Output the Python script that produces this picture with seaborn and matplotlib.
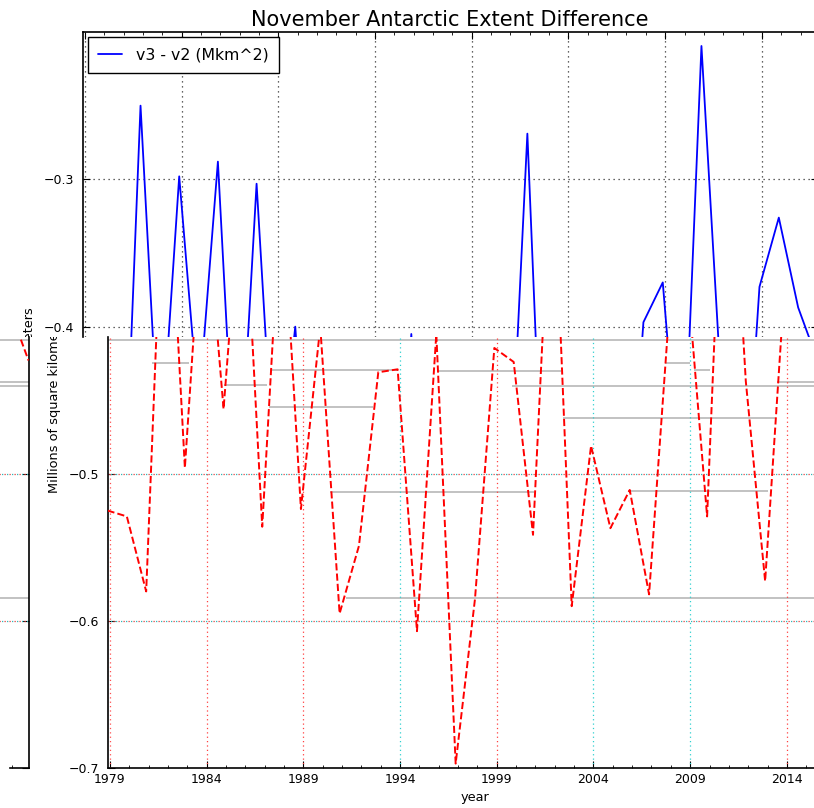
import numpy as np
import pandas as pd
import matplotlib
matplotlib.use("Agg")
import matplotlib.pyplot as plt
from matplotlib.ticker import MultipleLocator
from matplotlib.transforms import Bbox, TransformedBbox
import seaborn as sns

# ---------------- data ----------------
years = list(range(1978, 2017))
diff_v3_v2 = [-0.525, -0.529, -0.580, -0.250, -0.496, -0.298, -0.456, -0.288, -0.536, -0.303,
              -0.524, -0.400, -0.595, -0.549, -0.431, -0.429, -0.607, -0.405, -0.697, -0.585,
              -0.4145, -0.424, -0.5415, -0.269, -0.590, -0.481, -0.537, -0.511, -0.582, -0.397,
              -0.370, -0.529, -0.2095, -0.437, -0.573, -0.373, -0.326, -0.387, -0.423]
x_ticks = [1979, 1984, 1989, 1994, 1999, 2004, 2009, 2014]
x_tick_labels = [str(v) for v in x_ticks]
y_ticks_top = [-0.3, -0.4]
y_ticks_bottom = [-0.5, -0.6, -0.7]
legend_label = "v3 - v2 (Mkm^2)"
title = "November Antarctic Extent Difference"
ylabel = "Millions of square kilometers"
xlabel = "year"

# faint grey horizontal streaks seen in the lower half of the picture (value, from-year, to-year)
streak_y = [-0.4088, -0.4293, -0.4299, -0.4401, -0.4619, -0.5126, -0.5120, -0.5842,
            -0.4549, -0.4245, -0.4395, -0.4245, -0.4293, -0.4374]
streak_x0 = [1978.9, 1987.3, 1996.0, 1999.8, 2002.4, 1990.4, 2005.8, 1991.2,
             1987.2, 1981.2, 1984.9, 2007.7, 2009.2, 2013.5]
streak_x1 = [2016.9, 1993.9, 2002.3, 2016.9, 2013.4, 2000.9, 2013.0, 2016.9,
             1992.6, 1983.1, 1987.1, 2009.0, 2010.0, 2016.9]

# mid-November as fractional year
x_vals = np.array(years) + 10.5 / 12
df = pd.DataFrame({"x": x_vals, "diff": diff_v3_v2})

# ---------------- style ----------------
sns.set_style("white")
plt.rcParams["font.family"] = ["DejaVu Sans"]
plt.rcParams["axes.unicode_minus"] = True
for k in ["text.color", "axes.labelcolor", "xtick.color", "ytick.color"]:
    plt.rcParams[k] = "black"

W, H = 814, 808
fig = plt.figure(figsize=(W / 100, H / 100), dpi=100)


def px_axes(left, top, right, bottom):
    return fig.add_axes([left / W, 1 - bottom / H, (right - left) / W, (bottom - top) / H])


SPLIT = 336.5
Y_SPLIT = -0.4067
axA = px_axes(82.5, 32, 817.5, SPLIT)
axB = px_axes(107.5, SPLIT, 842.5, 768)
axC = px_axes(107.5 - 814, SPLIT, 842.5 - 814, 768)

xlim = (x_vals[0], x_vals[-1])

# ---------- upper half: blue solid ----------
sns.lineplot(data=df, x="x", y="diff", ax=axA, color="#0000ff", lw=1.3,
             label=legend_label, zorder=3, sort=False)
axA.set_xlim(*xlim)
axA.set_ylim(Y_SPLIT, -0.2)
axA.set_xticks(x_ticks)
axA.xaxis.set_minor_locator(MultipleLocator(1))
axA.set_yticks(y_ticks_top)
axA.tick_params(axis="x", which="both", direction="in", top=True, bottom=False,
                labeltop=False, labelbottom=False)
axA.tick_params(axis="x", which="major", length=5, width=0.8)
axA.tick_params(axis="x", which="minor", length=2.5, width=0.6)
axA.tick_params(axis="y", which="major", direction="in", left=True, right=True,
                length=5, width=0.8, pad=6, labelsize=9)
axA.grid(True, which="major", axis="both", linestyle=(0, (1, 3)), color="#333333", lw=0.9)
axA.set_axisbelow(True)
axA.set_xlabel("")
axA.set_ylabel("")
for s in ["left", "top", "right"]:
    axA.spines[s].set_color("black")
    axA.spines[s].set_linewidth(1.2)
axA.spines["bottom"].set_visible(False)
axA.set_title(title, fontsize=15, pad=4, color="black")
leg = axA.legend(loc="upper left", fontsize=11.3, frameon=True, fancybox=False,
                 edgecolor="black", framealpha=1, borderaxespad=0.35,
                 handlelength=1.5, handletextpad=0.9, borderpad=0.65)
leg.get_frame().set_linewidth(1.0)

# ---------- lower half: red dashed (B) and its wrapped copy (C) ----------
grid_colors_b = ["#ff5050", "#ff4040", "#ff4040", "#30d0d0", "#ff4040", "#30d0d0", "#30d0d0", "#ff4040"]
for ax, show_labels in [(axB, True), (axC, False)]:
    for yv, x0, x1 in zip(streak_y, streak_x0, streak_x1):
        ax.hlines(yv, x0, x1, color="#bdbdbd", lw=1.3, zorder=1)
    for xt, c in zip(x_ticks, grid_colors_b):
        ax.axvline(xt, color=c, linestyle=(0, (1, 2.5)), lw=0.9, zorder=1.5)
    for yt in y_ticks_bottom[:-1]:
        ax.axhline(yt, color="#e04040", linestyle=(0, (1, 3)), lw=0.9, zorder=1.5)
        ax.axhline(yt, color="#30b8b8", linestyle=(2, (1, 3)), lw=0.9, zorder=1.5)
    sns.lineplot(data=df, x="x", y="diff", ax=ax, color="#ff0000", lw=1.4,
                 linestyle="--", legend=False, zorder=3, sort=False)
    ax.set_xlim(*xlim)
    ax.set_ylim(-0.7, Y_SPLIT)
    ax.set_xticks(x_ticks)
    ax.xaxis.set_minor_locator(MultipleLocator(1))
    ax.set_yticks(y_ticks_bottom)
    if show_labels:
        ax.set_xticklabels(x_tick_labels)
    ax.tick_params(axis="x", which="both", direction="in", bottom=True, top=False,
                   labelbottom=show_labels, labelsize=9, pad=3.5)
    ax.tick_params(axis="x", which="major", length=5, width=0.8)
    ax.tick_params(axis="x", which="minor", length=2.5, width=0.6)
    ax.tick_params(axis="y", which="major", direction="in", left=True, right=True,
                   length=5, width=0.8, pad=6, labelsize=9, labelleft=show_labels)
    ax.set_ylabel("")
    ax.set_xlabel(xlabel if show_labels else "", fontsize=9.3, labelpad=4)
    for s in ["left", "bottom", "right"]:
        ax.spines[s].set_color("black")
        ax.spines[s].set_linewidth(1.2)
    ax.spines["top"].set_visible(False)

axC.spines["bottom"].set_bounds(2015.92, xlim[1])

# ---------- y labels (each half shows its own copy) ----------
tA = fig.text(30 / W, 1 - 400 / H, ylabel, rotation=90, ha="center", va="center", fontsize=9.3)
tA.set_clip_box(TransformedBbox(Bbox([[0, 1 - SPLIT / H], [1, 1]]), fig.transFigure))
tA.set_clip_on(True)
tB = fig.text(55 / W, 1 - 400 / H, ylabel, rotation=90, ha="center", va="center", fontsize=9.3)
tB.set_clip_box(TransformedBbox(Bbox([[0, 0], [1, 1 - SPLIT / H]]), fig.transFigure))
tB.set_clip_on(True)

fig.savefig("out.png", dpi=100)
